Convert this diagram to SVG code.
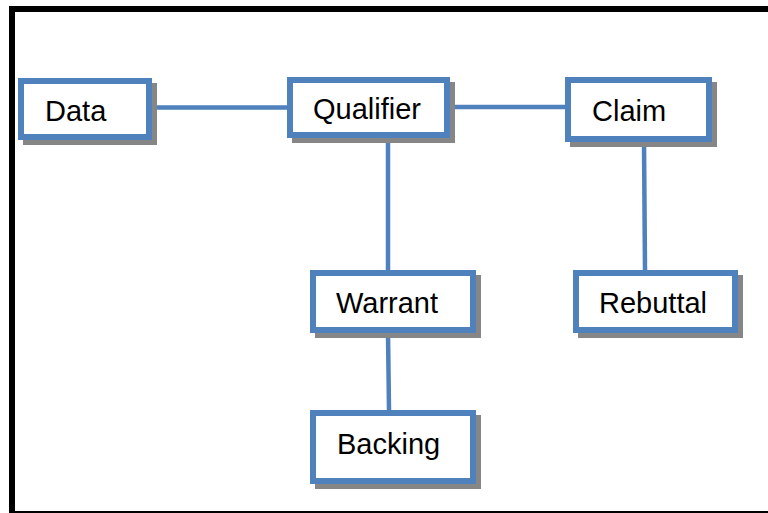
<svg xmlns="http://www.w3.org/2000/svg" width="768" height="513" viewBox="0 0 768 513">
<style>
.box{fill:#fff;stroke:#4F81BD;stroke-width:6}
.sh{fill:#868686}
.lbl{font-family:"Liberation Sans",Arial,sans-serif;font-size:29px;fill:#000}
.con{stroke:#4F81BD;stroke-width:4.5;fill:none}
</style>
<rect width="768" height="513" fill="#fff"/>
<g id="frame">
<rect x="9" y="6" width="759" height="6" fill="#000"/>
<rect x="9" y="6" width="6" height="507" fill="#000"/>
<rect x="9" y="511" width="759" height="2" fill="#000"/>
</g>
<g id="connectors">
<line class="con" x1="152" y1="107.5" x2="287" y2="107.5"/>
<line class="con" x1="450" y1="107" x2="565" y2="107"/>
<line class="con" x1="388" y1="138" x2="388" y2="270"/>
<line class="con" x1="644" y1="142" x2="645" y2="270"/>
<line class="con" x1="388" y1="333" x2="389" y2="410"/>
</g>
<g id="data">
<rect class="sh" x="23" y="83" width="134" height="62"/>
<rect class="box" x="21" y="81" width="128" height="56"/>
<text class="lbl" x="45" y="121">Data</text>
</g>
<g id="qualifier">
<rect class="sh" x="292" y="82" width="163" height="61"/>
<rect class="box" x="290" y="80" width="157" height="55"/>
<text class="lbl" x="313" y="119">Qualifier</text>
</g>
<g id="claim">
<rect class="sh" x="570" y="82" width="147" height="65"/>
<rect class="box" x="568" y="80" width="141" height="59"/>
<text class="lbl" x="592" y="121">Claim</text>
</g>
<g id="warrant">
<rect class="sh" x="315" y="275" width="166" height="63"/>
<rect class="box" x="313" y="273" width="160" height="57"/>
<text class="lbl" x="336" y="313">Warrant</text>
</g>
<g id="rebuttal">
<rect class="sh" x="578" y="275" width="165" height="63"/>
<rect class="box" x="576" y="273" width="159" height="57"/>
<text class="lbl" x="599" y="313">Rebuttal</text>
</g>
<g id="backing">
<rect class="sh" x="315" y="415" width="166" height="74"/>
<rect class="box" x="313" y="413" width="160" height="68"/>
<text class="lbl" x="337" y="454">Backing</text>
</g>
</svg>
